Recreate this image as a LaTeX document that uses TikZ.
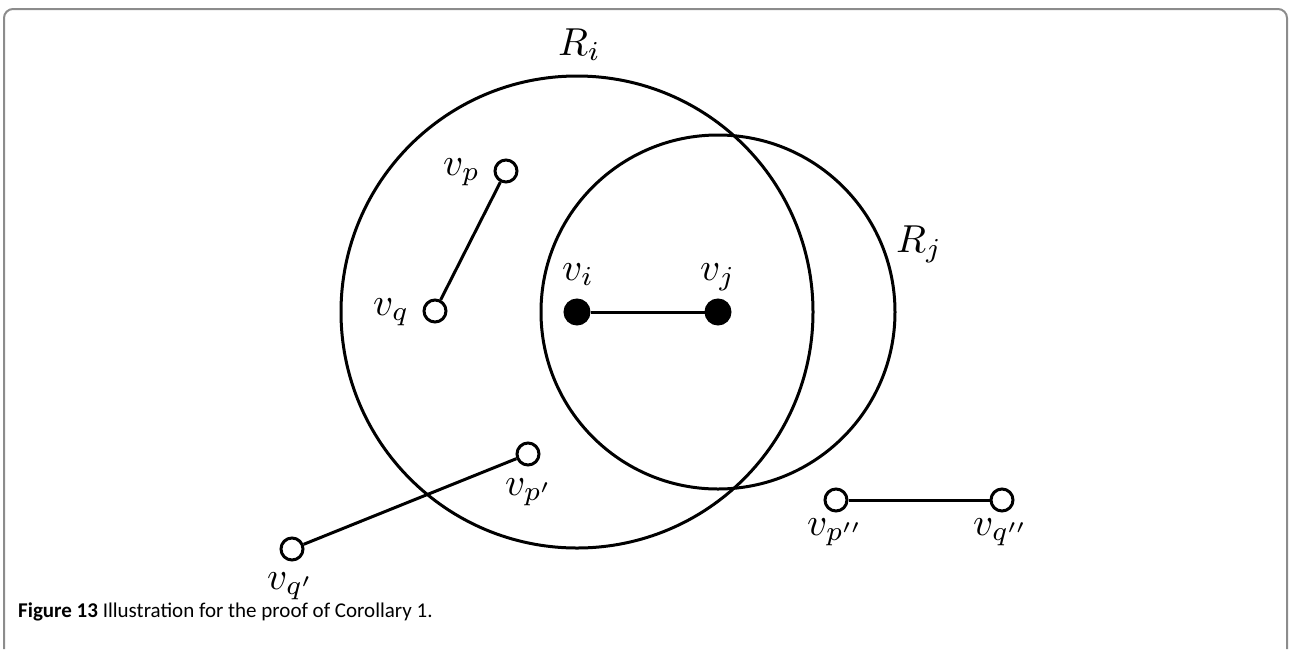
\documentclass[tikz,border=0pt]{standalone}
\usepackage{amsmath,amssymb}
\usepackage{graphicx}
\usepackage{fontspec}
\setsansfont{Carlito}
\usetikzlibrary{positioning}
\definecolor{framegray}{HTML}{8C8C8C}
\newcommand{\vlab}[1]{\scalebox{3.9}{$#1$}}

\begin{document}
\begin{tikzpicture}[
  x=1pt, y=-1pt,
  region/.style={draw, circle, line width=3pt, inner sep=0pt},
  vfull/.style={draw, circle, fill=black, line width=2pt, minimum size=25pt, inner sep=0pt},
  vopen/.style={draw, circle, fill=white, line width=3pt, minimum size=22pt, inner sep=0pt},
  lab/.style={anchor=base west, inner sep=0pt},
  edge/.style={line width=3pt},
]
  \useasboundingbox (0,0) rectangle (1291,649);
  % frame of the figure box
  \draw[framegray, line width=2pt, rounded corners=9pt] (4,649) -- (4,9) -- (1287,9) -- (1287,649);

  % vertices
  \node[vfull] (vi) at (577,312) {};
  \node[vfull] (vj) at (718,312) {};
  \node[vopen] (vp) at (506,171) {};
  \node[vopen] (vq) at (435,311) {};
  \node[vopen] (vp1) at (528,454) {};
  \node[vopen] (vq1) at (292,549) {};
  \node[vopen] (vp2) at (836,500) {};
  \node[vopen] (vq2) at (1002,500) {};

  % the two regions, centred at v_i and v_j
  \node[region, minimum size=472pt] (Ri) at (vi) {};
  \node[region, minimum size=354pt] (Rj) at (vj) {};
  \node[lab] (lRi) at (558,55) {\vlab{R_i}};
  \node[lab] (lRj) at (896,252) {\vlab{R_j}};

  \node[lab] (lvi) at (562,280) {\vlab{v_i}};
  \node[lab] (lvj) at (700,280) {\vlab{v_j}};
  \node[lab] (lvp) at (443,175) {\vlab{v_p}};
  \node[lab] (lvq) at (373,315) {\vlab{v_q}};
  \node[lab] (lvp1) at (505,495) {\vlab{v_{p'}}};
  \node[lab] (lvq1) at (267,589) {\vlab{v_{q'}}};
  \node[lab] (lvp2) at (807,535) {\vlab{v_{p''}}};
  \node[lab] (lvq2) at (973,535) {\vlab{v_{q''}}};

  % edges
  \draw[edge] (vi) -- (vj);
  \draw[edge] (vp) -- (vq);
  \draw[edge] (vp1) -- (vq1);
  \draw[edge] (vp2) -- (vq2);

  % caption
  \node[anchor=base west, font=\sffamily\fontsize{21}{25}\selectfont, inner sep=0pt] (cap) at (18,617)
    {\textbf{Figure 13} Illustration for the proof of Corollary 1.};
\end{tikzpicture}
\end{document}
